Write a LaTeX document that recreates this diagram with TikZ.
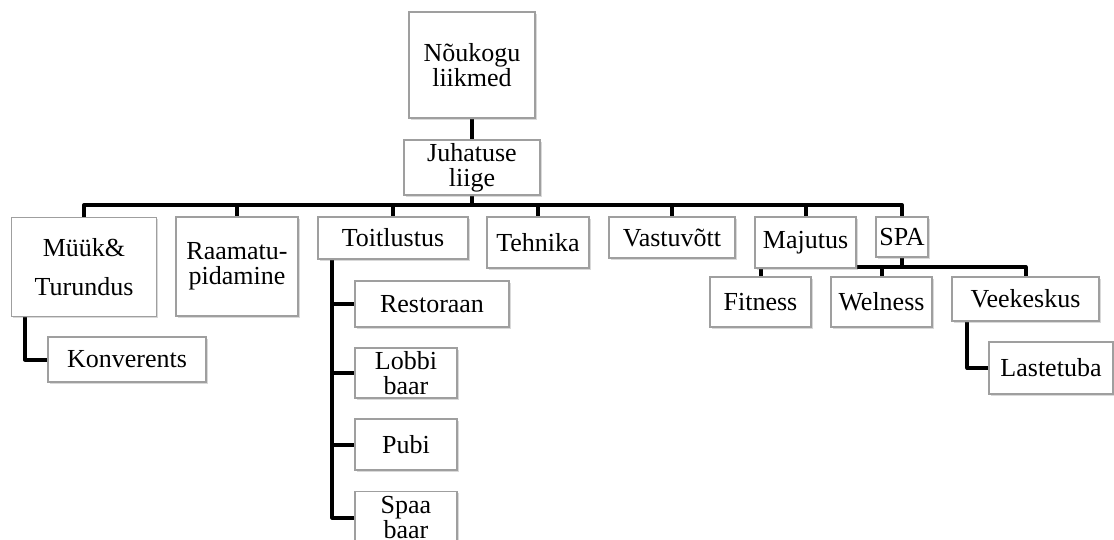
\documentclass[tikz,border=0pt]{standalone}
\usepackage{fontspec}
\setmainfont{Liberation Serif}
\usetikzlibrary{calc,positioning,shadows,backgrounds}

\begin{document}
\begin{tikzpicture}[x=0.5pt, y=-0.5pt, con/.style={line width=2pt, line join=round}]
\tikzstyle{box}=[rectangle, draw=gray!75, line width=0.6pt, fill=white, align=center, inner sep=0pt, font=\fontsize{13}{12.3}\selectfont, drop shadow={shadow xshift=0.8pt, shadow yshift=-0.8pt, opacity=0.3}]
\useasboundingbox (0,0) rectangle (1114,540);
\node[box, minimum width=63pt, minimum height=53pt] (nou) at (472,65) {Nõukogu\\liikmed};
\node[box, minimum width=68pt, minimum height=27.5pt] (juh) at (472,167.5) {Juhatuse\\liige};
\node[box, minimum width=72.5pt, minimum height=49.5pt] (myyk) at (84,267) {Müük\&\\[7pt]Turundus};
\node[box, minimum width=61pt, minimum height=49.5pt] (raam) at (237,266.5) {Raamatu-\\pidamine};
\node[box, minimum width=75pt, minimum height=21pt] (toit) at (393,238) {Toitlustus};
\node[box, minimum width=51pt, minimum height=25.5pt] (tehn) at (538,242.5) {Tehnika};
\node[box, minimum width=63pt, minimum height=20.5pt] (vast) at (672,237.5) {Vastuvõtt};
\node[box, minimum width=50.5pt, minimum height=25.5pt] (maju) at (805.5,242.5) {Majutus};
\node[box, minimum width=26pt, minimum height=20pt] (spa) at (902,237) {SPA};
\node[box, minimum width=50.5pt, minimum height=25pt] (fit) at (760.5,302) {Fitness};
\node[box, minimum width=50.5pt, minimum height=25pt] (wel) at (881.5,302) {Welness};
\node[box, minimum width=73.5pt, minimum height=22pt] (vee) at (1025.5,299) {Veekeskus};
\node[box, minimum width=62pt, minimum height=26pt] (last) at (1051,368) {Lastetuba};
\node[box, minimum width=79pt, minimum height=22.5pt] (konv) at (127,359.5) {Konverents};
\node[box, minimum width=77pt, minimum height=23pt] (rest) at (432,304) {Restoraan};
\node[box, minimum width=51pt, minimum height=25pt] (lobbi) at (406,373) {Lobbi\\baar};
\node[box, minimum width=51pt, minimum height=25.5pt] (pubi) at (406,444.5) {Pubi};
\node[box, minimum width=51pt, minimum height=26pt, anchor=north] (spaa) at (406,491) {Spaa\\baar};
\begin{scope}[on background layer]
\draw[con] (nou.south) -- (juh.north);
\coordinate (bus) at (472,205);
\draw[con] (juh.south) -- (bus);
\draw[con] (myyk.north) |- (bus) -| (spa.north);
\foreach \c in {raam,toit,tehn,vast,maju}{\draw[con] (bus) -| (\c.north);}
\coordinate (spabus) at (902,267);
\draw[con] (spa.south) -- (spabus);
\draw[con] (fit.north) |- (spabus) -| (vee.north);
\draw[con] (spabus) -| (wel.north);
\draw[con] ($(myyk.south west)+(14,0)$) |- (konv.west);
\coordinate (tv) at ($(toit.south west)+(15,0)$);
\foreach \c in {rest,lobbi,pubi,spaa}{\draw[con] (tv) |- (\c.west);}
\draw[con] ($(vee.south west)+(16,0)$) |- (last.west);
\end{scope}
\end{tikzpicture}
\end{document}
